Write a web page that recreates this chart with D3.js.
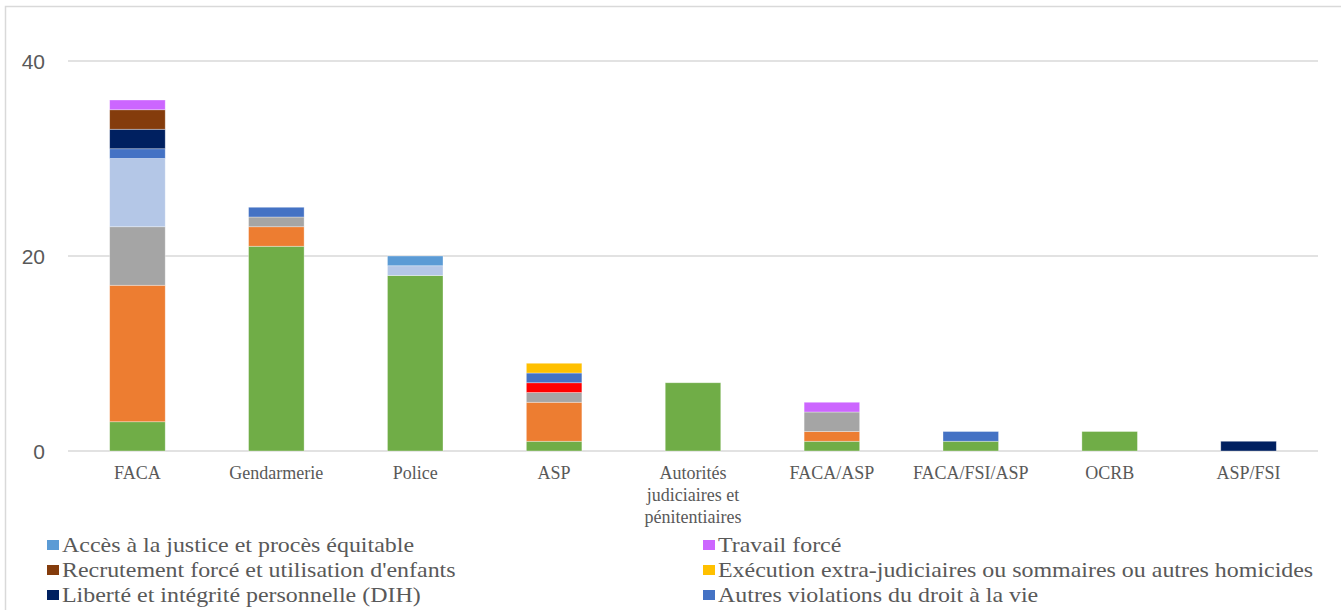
<!DOCTYPE html>
<html><head><meta charset="utf-8">
<script src="https://cdn.jsdelivr.net/npm/d3@7"></script>
</head><body style="margin:0;padding:0;background:#fff;overflow:hidden">
<svg id="chart" width="1341" height="610"></svg>
<script>
// ---- data ----
const categories = ["FACA","Gendarmerie","Police","ASP","Autorités judiciaires et pénitentiaires","FACA/ASP","FACA/FSI/ASP","OCRB","ASP/FSI"];
const categoryLines = [["FACA"],["Gendarmerie"],["Police"],["ASP"],["Autorités","judiciaires et","pénitentiaires"],["FACA/ASP"],["FACA/FSI/ASP"],["OCRB"],["ASP/FSI"]];
// stacking order bottom -> top
const seriesKeys = ["serieVerte","serieOrange","serieGrise","serieBleuPale","serieRouge","acces","autresVie","execution","liberte","recrutement","travail"];
const seriesColors = ["#70AD47","#ED7D31","#A5A5A5","#B4C7E7","#FF0000","#5B9BD5","#4472C4","#FFC000","#002060","#843C0C","#CC66FF"];
const serieVerte    = [3,21,18,1,7,1,1,2,0];
const serieOrange   = [14,2,0,4,0,1,0,0,0];
const serieGrise    = [6,1,0,1,0,2,0,0,0];
const serieBleuPale = [7,0,1,0,0,0,0,0,0];
const serieRouge    = [0,0,0,1,0,0,0,0,0];
const acces         = [0,0,1,0,0,0,0,0,0];
const autresVie     = [1,1,0,1,0,0,1,0,0];
const execution     = [0,0,0,1,0,0,0,0,0];
const liberte       = [2,0,0,0,0,0,0,0,1];
const recrutement   = [2,0,0,0,0,0,0,0,0];
const travail       = [1,0,0,0,0,1,0,0,0];
const seriesValues = [serieVerte,serieOrange,serieGrise,serieBleuPale,serieRouge,acces,autresVie,execution,liberte,recrutement,travail];
const yTicks = [0,20,40];
// visible legend entries (two columns, row-major)
const legendLabels = ["Accès à la justice et procès équitable","Travail forcé","Recrutement forcé et utilisation d'enfants","Exécution extra-judiciaires ou sommaires ou autres homicides","Liberté et intégrité personnelle (DIH)","Autres violations du droit à la vie"];
const legendKeys = ["acces","travail","recrutement","execution","liberte","autresVie"];

const SERIF = "'Liberation Serif'";
const SANS = "'Liberation Sans'";

// ---- build ----
const rows = categories.map((c,i)=>{const r={cat:c}; seriesKeys.forEach((k,j)=>r[k]=seriesValues[j][i]); return r;});
const colorOf = d3.scaleOrdinal().domain(seriesKeys).range(seriesColors);
const stack = d3.stack().keys(seriesKeys)(rows);

const svg = d3.select("#chart");
// outer border
svg.append("path").attr("d","M5.5,612 V6.5 H1345").attr("fill","none").attr("stroke","#D9D9D9").attr("stroke-width",1.5);

const x = d3.scaleBand().domain(categories).range([68,1318]).paddingInner(0.6).paddingOuter(0.3);
const y = d3.scaleLinear().domain([0,40]).range([451,61]);

// gridlines
svg.append("g").selectAll("line").data(yTicks).join("line")
  .attr("x1",68).attr("x2",1318).attr("y1",d=>y(d)).attr("y2",d=>y(d))
  .attr("stroke","#D9D9D9").attr("stroke-width",1.5);

// y axis labels
const yAxis = d3.axisLeft(y).tickValues(yTicks).tickSize(0).tickPadding(0);
const yg = svg.append("g").attr("transform","translate(45,0)").call(yAxis);
yg.select(".domain").remove();
yg.selectAll("text").style("font-family",SANS).style("font-size","21px").attr("fill","#595959").attr("dy","0.35em");

// bars
svg.append("g").selectAll("g").data(stack).join("g").attr("fill",d=>colorOf(d.key))
  .selectAll("rect").data(d=>d.filter(s=>s[1]-s[0]>0)).join("rect")
  .attr("x",d=>x(d.data.cat)).attr("width",x.bandwidth())
  .attr("y",d=>y(d[1])).attr("height",d=>y(d[0])-y(d[1]))
  .attr("stroke","#fff").attr("stroke-opacity",0.45).attr("stroke-width",0.75);

// x axis labels
const xAxis = d3.axisBottom(x).tickSize(0).tickFormat(()=> "");
const xg = svg.append("g").attr("transform","translate(0,451)").call(xAxis);
xg.select(".domain").remove();
xg.selectAll(".tick").each(function(d,i){
  const t = d3.select(this).append("text").attr("text-anchor","middle")
    .style("font-family",SERIF).style("font-size","18px").attr("fill","#595959");
  categoryLines[i].forEach((ln,k)=>t.append("tspan").attr("x",0).attr("y",28+k*22).text(ln));
});

// legend
const leg = svg.append("g");
legendLabels.forEach((lab,i)=>{
  const col = i%2, row = Math.floor(i/2);
  const lx = col===0 ? 47 : 703;
  const ly = 552 + row*25;
  leg.append("rect").attr("x",lx).attr("y",ly-12).attr("width",12).attr("height",10).attr("fill",colorOf(legendKeys[i]));
  leg.append("text").attr("transform",`translate(${lx+15},${ly}) scale(1.14,1)`)
    .style("font-family",SERIF).style("font-size","21px").attr("fill","#595959").text(lab);
});
</script>
</body></html>
